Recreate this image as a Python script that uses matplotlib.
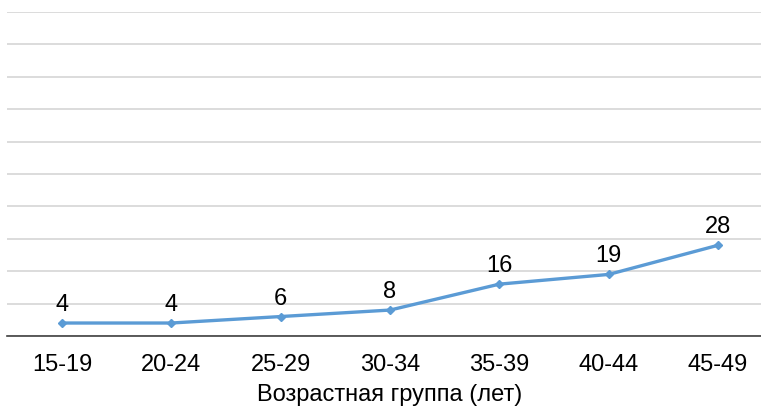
import matplotlib
matplotlib.use("Agg")
import matplotlib.pyplot as plt

plt.rcParams['font.family'] = ['Liberation Sans', 'DejaVu Sans']

age_groups = ["15-19", "20-24", "25-29", "30-34", "35-39", "40-44", "45-49"]
values = [4, 4, 6, 8, 16, 19, 28]
y_ticks = list(range(0, 101, 10))

fig = plt.figure(figsize=(7.61, 4.07), dpi=100)
ax = fig.add_axes([0.0096, 0.1745, 1.0058, 0.796])

x = list(range(len(age_groups)))
ax.plot(x, values, color="#5B9BD5", linewidth=2.4, marker="D", markersize=4,
        solid_capstyle="round", zorder=3)

for xi, v in zip(x, values):
    ax.annotate(str(v), (xi, v), xytext=(0, 5), textcoords="offset points",
                ha="center", va="bottom", fontsize=17, color="#000000")

ax.set_xlim(-0.5, len(age_groups) - 0.5)
ax.set_ylim(0, 100)
ax.set_yticks(y_ticks)
ax.yaxis.grid(True, color="#D9D9D9", linewidth=1.3)
ax.set_axisbelow(True)
ax.tick_params(axis="y", left=False, labelleft=False)
ax.set_xticks(x)
ax.set_xticklabels(age_groups, fontsize=17)
ax.tick_params(axis="x", length=0, pad=13)
ax.set_xlabel("Возрастная группа (лет)", fontsize=17, labelpad=6)

for side in ("top", "right", "left"):
    ax.spines[side].set_visible(False)
ax.spines["bottom"].set_color("#404040")
ax.spines["bottom"].set_linewidth(1.2)

fig.savefig("out.png", dpi=100)
